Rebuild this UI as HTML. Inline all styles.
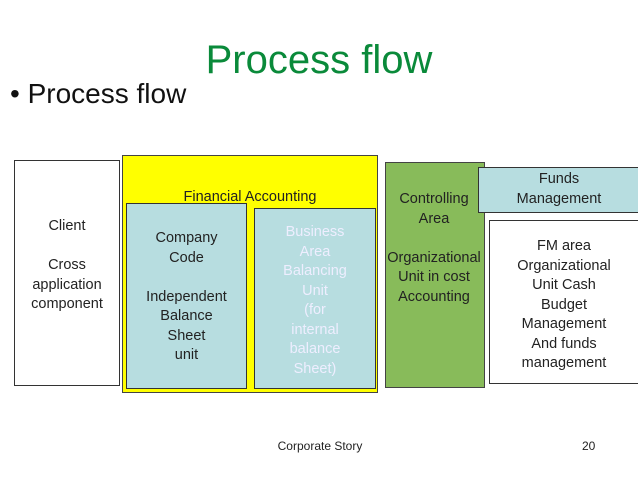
<!DOCTYPE html>
<html><head><style>
body{margin:0;width:638px;height:479px;background:#fff;position:relative;overflow:hidden;font-family:"Liberation Sans",sans-serif;}
.a{position:absolute;box-sizing:border-box;}
.t{position:absolute;text-align:center;font-size:14.5px;line-height:19.5px;color:#222;}
</style></head><body>
<div class="a" style="left:0;top:38px;width:638px;text-align:center;font-size:40px;color:#0a8a3a;left:0px;"><span style="position:relative;left:0px">Process flow</span></div>
<div class="a" style="left:10px;top:78px;font-size:28px;color:#111;">• Process flow</div>
<div class="a" style="left:14px;top:160px;width:106px;height:226px;border:1px solid #333;background:#fff;"></div>
<div class="t" style="left:14px;top:217px;width:106px;">Client<br><br>Cross<br>application<br>component</div>
<div class="a" style="left:122px;top:155px;width:256px;height:238px;border:1px solid #444;background:#ffff00;"></div>
<div class="t" style="left:122px;top:188px;width:256px;">Financial Accounting</div>
<div class="a" style="left:126px;top:203px;width:121px;height:186px;border:1px solid #333;background:#b7dde0;"></div>
<div class="t" style="left:126px;top:229px;width:121px;">Company<br>Code<br><br>Independent<br>Balance<br>Sheet<br>unit</div>
<div class="a" style="left:254px;top:208px;width:122px;height:181px;border:1px solid #333;background:#b7dde0;"></div>
<div class="t" style="left:254px;top:223px;width:122px;color:#eef;">Business<br>Area<br>Balancing<br>Unit<br>(for<br>internal<br>balance<br>Sheet)</div>
<div class="a" style="left:385px;top:162px;width:100px;height:226px;border:1px solid #444;background:#88bb5a;"></div>
<div class="t" style="left:381px;top:190px;width:106px;">Controlling<br>Area<br><br>Organizational<br>Unit in cost<br>Accounting</div>
<div class="a" style="left:478px;top:167px;width:162px;height:46px;border:1px solid #333;background:#b7dde0;"></div>
<div class="t" style="left:478px;top:170px;width:162px;">Funds<br>Management</div>
<div class="a" style="left:489px;top:220px;width:152px;height:164px;border:1px solid #333;background:#fff;"></div>
<div class="t" style="left:489px;top:237px;width:150px;">FM area<br>Organizational<br>Unit Cash<br>Budget<br>Management<br>And funds<br>management</div>
<div class="a" style="left:220px;top:439px;width:200px;text-align:center;font-size:12px;color:#222;">Corporate Story</div>
<div class="a" style="left:582px;top:439px;font-size:12px;color:#222;">20</div>
</body></html>
